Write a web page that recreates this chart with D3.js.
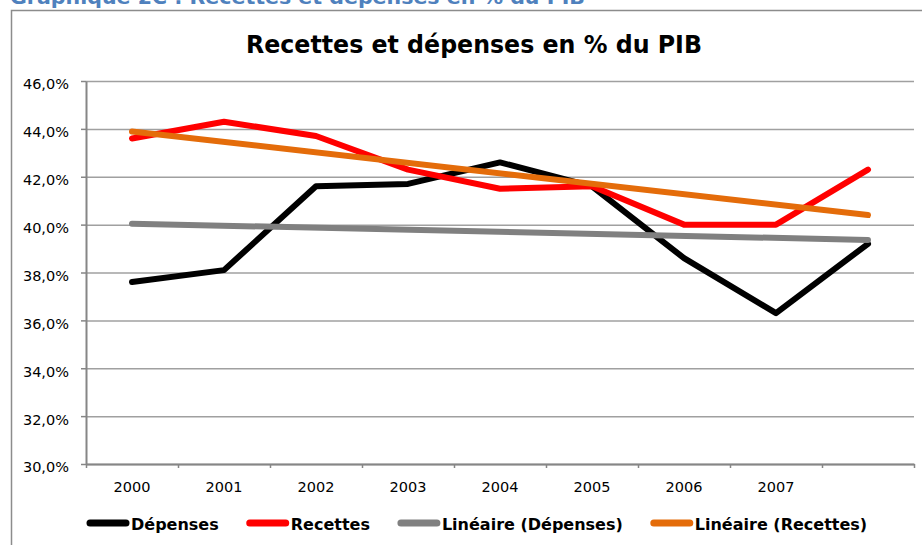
<!DOCTYPE html>
<html>
<head>
<meta charset="utf-8">
<script src="https://cdn.jsdelivr.net/npm/d3@7"></script>
<style>
  html, body { margin: 0; padding: 0; background: #ffffff; }
  svg { display: block; }
</style>
</head>
<body>
<svg id="chart" width="922" height="545"></svg>
<script>
// ---- data ----
const categories = ["2000", "2001", "2002", "2003", "2004", "2005", "2006", "2007", ""];
const depenses = [37.6, 38.1, 41.6, 41.7, 42.6, 41.6, 38.6, 36.3, 39.2];
const recettes = [43.6, 44.3, 43.7, 42.3, 41.5, 41.6, 40.0, 40.0, 42.3];
const yTicks = [30, 32, 34, 36, 38, 40, 42, 44, 46];
const seriesNames = ["Dépenses", "Recettes", "Linéaire (Dépenses)", "Linéaire (Recettes)"];
const seriesColors = ["#000000", "#FF0000", "#808080", "#E46C0A"];
const chartTitle = "Recettes et dépenses en % du PIB";
const headerText = "Graphique 2C : Recettes et dépenses en % du PIB";

// ---- layout ----
const svg = d3.select("#chart");
const W = 922, H = 545;
const plot = { left: 86, right: 914, top: 81, bottom: 464 };

svg.append("rect").attr("width", W).attr("height", H).attr("fill", "#fff");

// header (cut off at the top edge, as in the source document)
svg.append("text")
  .attr("x", 10).attr("y", 4)
  .attr("font-family", "DejaVu Sans, sans-serif")
  .attr("font-weight", "bold")
  .attr("font-size", 19)
  .attr("fill", "#4F81BD")
  .attr("textLength", 575)
  .attr("lengthAdjust", "spacingAndGlyphs")
  .text(headerText);

// chart frame
svg.append("rect")
  .attr("x", 11.5).attr("y", 10.5)
  .attr("width", W + 20).attr("height", H + 20)
  .attr("fill", "#fff")
  .attr("stroke", "#8c8c8c").attr("stroke-width", 1.5);

// title
svg.append("text")
  .attr("x", 246).attr("y", 53)
  .attr("font-family", "DejaVu Sans, sans-serif")
  .attr("font-weight", "bold")
  .attr("font-size", 25)
  .attr("fill", "#000")
  .attr("textLength", 456)
  .attr("lengthAdjust", "spacingAndGlyphs")
  .text(chartTitle);

// scales
const x = d3.scaleBand().domain(categories.map((c, i) => i)).range([plot.left, plot.right]).padding(0);
const xEdge = d3.scaleLinear().domain([0, categories.length]).range([plot.left, plot.right]);
const y = d3.scaleLinear().domain([30, 46]).range([plot.bottom, plot.top]);
const cx = i => x(i) + x.bandwidth() / 2;

const locale = d3.formatLocale({ decimal: ",", thousands: " ", grouping: [3], currency: ["", " €"] });
const fmt = v => locale.format(".1f")(v) + "%";

// gridlines
const grid = svg.append("g")
  .attr("transform", `translate(${plot.left},0)`)
  .call(d3.axisLeft(y).tickValues(yTicks).tickSize(-(plot.right - plot.left)).tickFormat(""));
grid.select(".domain").remove();
grid.selectAll(".tick line").attr("stroke", "#a0a0a0").attr("stroke-width", 1.5);

// y axis
const yAxis = svg.append("g")
  .attr("transform", `translate(${plot.left},0)`)
  .call(d3.axisLeft(y).tickValues(yTicks).tickSize(5).tickSizeOuter(0).tickPadding(12).tickFormat(fmt));
yAxis.select(".domain").attr("stroke", "#868686").attr("stroke-width", 2);
yAxis.selectAll(".tick line").attr("stroke", "#868686").attr("stroke-width", 1.5);
yAxis.selectAll(".tick text")
  .attr("font-family", "DejaVu Sans, sans-serif")
  .attr("font-size", 14.5)
  .attr("fill", "#000")
  .attr("dy", "0.55em");

// x axis: tick marks at category boundaries
const xTicks = svg.append("g")
  .attr("transform", `translate(0,${plot.bottom})`)
  .call(d3.axisBottom(xEdge).tickValues(d3.range(categories.length + 1)).tickSize(4).tickSizeOuter(0).tickFormat(""));
xTicks.select(".domain").attr("stroke", "#868686").attr("stroke-width", 2);
xTicks.selectAll(".tick line").attr("stroke", "#868686").attr("stroke-width", 1.5);

// x labels at band centers
const xLabels = svg.append("g")
  .attr("transform", `translate(0,${plot.bottom})`)
  .call(d3.axisBottom(x).tickSize(0).tickPadding(18).tickFormat(i => categories[i]));
xLabels.select(".domain").remove();
xLabels.selectAll(".tick text")
  .attr("font-family", "DejaVu Sans, sans-serif")
  .attr("font-size", 14.5)
  .attr("fill", "#000");

// linear trend (least squares, like the spreadsheet's linear trendline)
function trend(values) {
  const n = values.length;
  const xs = d3.range(n);
  const mx = d3.mean(xs), my = d3.mean(values);
  const sxy = d3.sum(xs, (xi, k) => (xi - mx) * (values[k] - my));
  const sxx = d3.sum(xs, xi => (xi - mx) * (xi - mx));
  const b = sxy / sxx, a = my - b * mx;
  return [0, n - 1].map(xi => ({ i: xi, v: a + b * xi }));
}

const line = d3.line().x(d => cx(d.i)).y(d => y(d.v));
const series = [
  depenses.map((v, i) => ({ i, v })),
  recettes.map((v, i) => ({ i, v })),
  trend(depenses),
  trend(recettes)
];

svg.append("g").selectAll("path")
  .data(series)
  .join("path")
  .attr("d", line)
  .attr("fill", "none")
  .attr("stroke", (d, k) => seriesColors[k])
  .attr("stroke-width", 6)
  .attr("stroke-linejoin", "round")
  .attr("stroke-linecap", "round");

// legend
const legend = svg.append("g");
let lx = 90;
const ly = 523;
seriesNames.forEach((name, k) => {
  legend.append("line")
    .attr("x1", lx).attr("x2", lx + 36)
    .attr("y1", ly).attr("y2", ly)
    .attr("stroke", seriesColors[k])
    .attr("stroke-width", 7)
    .attr("stroke-linecap", "round");
  const t = legend.append("text")
    .attr("x", lx + 41).attr("y", ly + 7)
    .attr("font-family", "DejaVu Sans, sans-serif")
    .attr("font-weight", "bold")
    .attr("font-size", 16)
    .attr("fill", "#000")
    .text(name);
  const w = t.node().getComputedTextLength();
  lx = lx + 41 + w + 31;
});
</script>
</body>
</html>
